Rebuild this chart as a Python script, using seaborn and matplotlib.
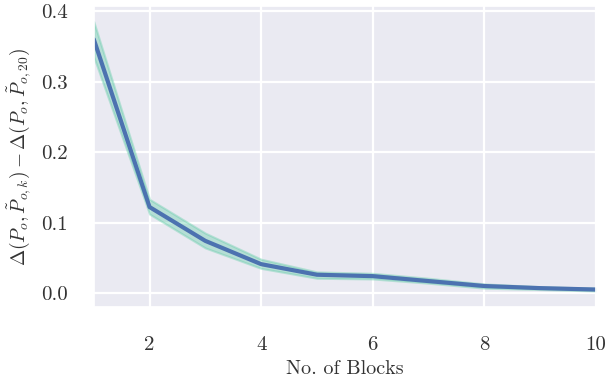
import numpy as np
import pandas as pd
import matplotlib
matplotlib.use("Agg")
import matplotlib.pyplot as plt
import seaborn as sns

blocks = [1, 2, 3, 4, 5, 6, 7, 8, 9, 10]
mean_diff = [0.360, 0.122, 0.074, 0.041, 0.026, 0.024, 0.017, 0.010, 0.007, 0.005]
lower = [0.335, 0.112, 0.064, 0.035, 0.021, 0.020, 0.014, 0.007, 0.005, 0.003]
upper = [0.385, 0.133, 0.085, 0.048, 0.030, 0.028, 0.021, 0.013, 0.009, 0.007]

sns.set_theme(style="darkgrid", rc={'grid.linewidth': 1.6})
plt.rcParams['font.family'] = 'serif'
plt.rcParams['font.serif'] = ['cmr10', 'DejaVu Serif']
plt.rcParams['mathtext.fontset'] = 'cm'
plt.rcParams['axes.unicode_minus'] = False
plt.rcParams['axes.formatter.use_mathtext'] = True
plt.rcParams['text.color'] = '#333333'
plt.rcParams['xtick.color'] = '#333333'
plt.rcParams['ytick.color'] = '#333333'
plt.rcParams['axes.labelcolor'] = '#333333'

df = pd.DataFrame({'blocks': blocks, 'diff': mean_diff})

fig, ax = plt.subplots(figsize=(6.05, 3.83), dpi=100)
ax.fill_between(blocks, lower, upper, color='mediumaquamarine', alpha=0.4, linewidth=1.5)
sns.lineplot(data=df, x='blocks', y='diff', ax=ax, color='#4c72b0', linewidth=3)

ax.set_xlim(1, 10)
ax.set_ylim(-0.02, 0.407)
ax.set_xticks([2, 4, 6, 8, 10])
ax.set_yticks([0.0, 0.1, 0.2, 0.3, 0.4])
ax.set_xticklabels(['2', '4', '6', '8', '10'])
ax.set_yticklabels(['0.0', '0.1', '0.2', '0.3', '0.4'])
ax.tick_params(axis='both', labelsize=15)
ax.tick_params(axis='x', pad=15)
ax.tick_params(axis='y', pad=13)
ax.set_xlabel('No. of Blocks', fontsize=14.5, labelpad=4)
ax.set_ylabel(r'$\Delta(P_o,\tilde{P}_{o,k}) - \Delta(P_o,\tilde{P}_{o,20})$', fontsize=14, labelpad=5)

fig.subplots_adjust(left=0.155, right=0.985, top=0.984, bottom=0.198)
fig.savefig('out.png', dpi=100)
